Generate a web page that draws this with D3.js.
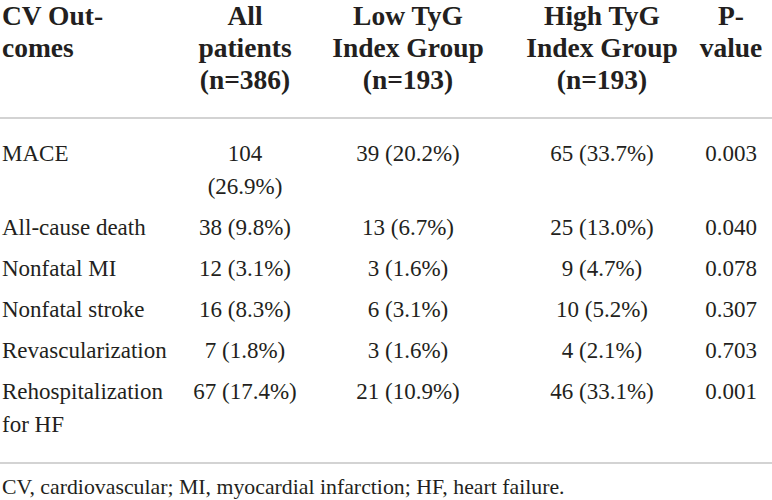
<!DOCTYPE html>
<html>
<head>
<meta charset="utf-8">
<script src="https://cdn.jsdelivr.net/npm/d3@7"></script>
<style>
  body { margin: 0; background: #fff; }
  svg text { font-family: "Liberation Serif", "Times New Roman", serif; fill: #231f20; }
</style>
</head>
<body>
<svg width="772" height="500"></svg>
<script>
// table content
var headers = [
    ['CV Out-', 'comes'],
    ['All', 'patients', '(n=386)'],
    ['Low TyG', 'Index Group', '(n=193)'],
    ['High TyG', 'Index Group', '(n=193)'],
    ['P-', 'value']
];
var outcomes = [
    ['MACE'],
    ['All-cause death'],
    ['Nonfatal MI'],
    ['Nonfatal stroke'],
    ['Revascularization'],
    ['Rehospitalization', 'for HF']
];
var allN = [104, 38, 12, 16, 7, 67];
var allPct = ['26.9', '9.8', '3.1', '8.3', '1.8', '17.4'];
var lowN = [39, 13, 3, 6, 3, 21];
var lowPct = ['20.2', '6.7', '1.6', '3.1', '1.6', '10.9'];
var highN = [65, 25, 9, 10, 4, 46];
var highPct = ['33.7', '13.0', '4.7', '5.2', '2.1', '33.1'];
var pValues = ['0.003', '0.040', '0.078', '0.307', '0.703', '0.001'];
var footnote = 'CV, cardiovascular; MI, myocardial infarction; HF, heart failure.';

var svg = d3.select('svg');
var width = +svg.attr('width');

// column layout
var colKeys = ['outcome', 'all', 'low', 'high', 'p'];
var colX = d3.scaleOrdinal().domain(colKeys).range([2, 245, 408, 602, 731]);
var colAnchor = d3.scaleOrdinal().domain(colKeys).range(['start', 'middle', 'middle', 'middle', 'middle']);
var colMaxW = d3.scaleOrdinal().domain(colKeys).range([170, 110, 140, 140, 80]);

var headSize = 27.5, headLead = 32, headTop = 25, headRule = 118;
var bodySize = 23, bodyLead = 33, rowGap = 41, bodyTop = 161;

function cellText(n, pct) { return n + ' (' + pct + '%)'; }

// build rows
var rows = outcomes.map(function(o, i) {
    return {
        outcome: o,
        all: [cellText(allN[i], allPct[i])],
        low: [cellText(lowN[i], lowPct[i])],
        high: [cellText(highN[i], highPct[i])],
        p: [pValues[i]]
    };
});

// measure helper for wrapping cells that don't fit
var measure = svg.append('text').attr('font-size', bodySize).attr('visibility', 'hidden');
function textW(s) { measure.text(s); return measure.node().getComputedTextLength(); }

rows.forEach(function(r) {
    ['all', 'low', 'high', 'p'].forEach(function(k) {
        var s = r[k][0];
        if (textW(s) > colMaxW(k) && s.indexOf(' ') > 0) {
            r[k] = [s.slice(0, s.indexOf(' ')), s.slice(s.indexOf(' ') + 1)];
        }
    });
    r.lines = d3.max(colKeys, function(k) { return r[k].length; });
});
measure.remove();

// y positions for body rows
var y = bodyTop;
rows.forEach(function(r) {
    r.y = y;
    y += rowGap + (r.lines - 1) * bodyLead;
});
var lastRow = rows[rows.length - 1];
var bottomLineY = lastRow.y + (lastRow.lines - 1) * bodyLead + 31;

// header
var headG = svg.append('g');
headers.forEach(function(h, ci) {
    var t = headG.append('text')
        .attr('x', colX(colKeys[ci]))
        .attr('y', headTop)
        .attr('text-anchor', colAnchor(colKeys[ci]))
        .attr('font-size', headSize)
        .attr('font-weight', 'bold');
    t.selectAll('tspan').data(h).enter().append('tspan')
        .attr('x', colX(colKeys[ci]))
        .attr('dy', function(d, i) { return i === 0 ? 0 : headLead; })
        .text(function(d) { return d; });
});

// rules
svg.append('line')
    .attr('x1', 0).attr('x2', width)
    .attr('y1', headRule).attr('y2', headRule)
    .attr('stroke', '#c4c4c4').attr('stroke-width', 1.5);
svg.append('line')
    .attr('x1', 0).attr('x2', width)
    .attr('y1', bottomLineY).attr('y2', bottomLineY)
    .attr('stroke', '#c4c4c4').attr('stroke-width', 1.5);

// body
var rowG = svg.selectAll('.row').data(rows).enter().append('g').attr('class', 'row');
colKeys.forEach(function(k) {
    rowG.append('text')
        .attr('x', colX(k))
        .attr('y', function(d) { return d.y; })
        .attr('text-anchor', colAnchor(k))
        .attr('font-size', bodySize)
        .each(function(d) {
            d3.select(this).selectAll('tspan').data(d[k]).enter().append('tspan')
                .attr('x', colX(k))
                .attr('dy', function(s, i) { return i === 0 ? 0 : bodyLead; })
                .text(function(s) { return s; });
        });
});

// footnote
svg.append('text')
    .attr('x', 2)
    .attr('y', bottomLineY + 31)
    .attr('font-size', 21.8)
    .text(footnote);
</script>
</body>
</html>
